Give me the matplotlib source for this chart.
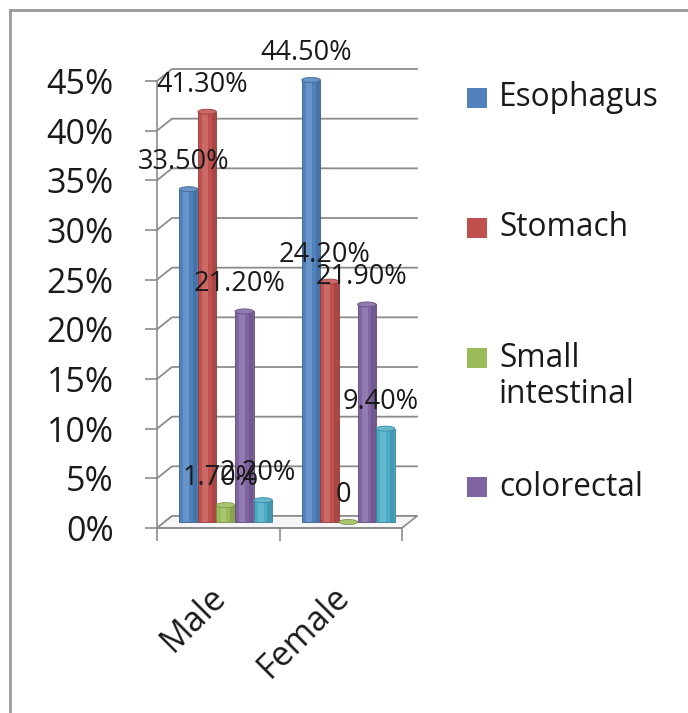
import matplotlib
matplotlib.use("Agg")
import matplotlib.pyplot as plt
import matplotlib.colors as mcolors
from matplotlib.patches import Ellipse, Polygon, Rectangle
from matplotlib.lines import Line2D
import numpy as np

plt.rcParams['font.family'] = ['Open Sans', 'DejaVu Sans']

# ---------------- data ----------------
categories = ["Male", "Female"]
esophagus = [33.5, 44.5]
stomach = [41.3, 24.2]
small_intestinal = [1.7, 0.0]
colorectal = [21.2, 21.9]
fifth_series = [2.2, 9.4]
series_values = [esophagus, stomach, small_intestinal, colorectal, fifth_series]
legend_names = ["Esophagus", "Stomach", "Small\nintestinal", "colorectal"]
series_colors = ["#4F81BD", "#C0504D", "#9BBB59", "#8064A2", "#4BACC6"]
yticks = list(range(0, 50, 5))

# ---------------- helpers ----------------
def lighten(c, a):
    r = np.array(mcolors.to_rgb(c))
    return tuple(r + (1 - r) * a)

def darken(c, a):
    r = np.array(mcolors.to_rgb(c))
    return tuple(r * (1 - a))

W, H = 688, 713
fig = plt.figure(figsize=(W / 100, H / 100), dpi=100)
fig.patch.set_facecolor("white")

def fx(px):
    return px / W

def fy(py):
    return 1 - py / H

# axes: front plane, x from -0.5..1.5 (157..402 px), y 0..45 (528..81 px)
ax = fig.add_axes([157 / W, (H - 528) / H, 245 / W, 447 / H])
ax.set_xlim(-0.5, 1.5)
ax.set_ylim(0, 45)
ax.set_facecolor("none")

PX_X = 245 / 2.0   # pixels per category unit
PX_Y = 447 / 45.0  # pixels per percent
DX = 15 / PX_X     # depth offset
DY = 12 / PX_Y

grid_col = "#8c8c8c"

# spines / ticks
for s in ["top", "right"]:
    ax.spines[s].set_visible(False)
ax.spines["left"].set_color(grid_col)
ax.spines["bottom"].set_color(grid_col)
ax.spines["left"].set_linewidth(1.2)
ax.spines["bottom"].set_linewidth(1.2)

ax.set_yticks(yticks)
ax.set_yticklabels([f"{v}%" for v in yticks])
ax.tick_params(axis="y", direction="out", length=9, width=1.2, color=grid_col,
               pad=22, labelsize=24.5, labelcolor="#1a1a1a")
ax.set_xticks([-0.5, 0.5, 1.5])
ax.set_xticklabels([])
ax.tick_params(axis="x", direction="out", length=9, width=1.2, color=grid_col)

# back wall gridlines with depth diagonals
for v in yticks:
    ax.plot([-0.5, -0.5 + DX, 1.5 + DX], [v, v + DY, v + DY],
            color=grid_col, lw=1.3, clip_on=False, zorder=1)

# floor
floor = Polygon([(-0.5, 0), (1.5, 0), (1.5 + DX, DY), (-0.5 + DX, DY)],
                closed=True, facecolor="#f6f6f6", edgecolor=grid_col, lw=1.2,
                clip_on=False, zorder=1.5)
ax.add_patch(floor)

# bars (cylinder look)
n = len(series_values)
w = 18.6 / PX_X
base = DY / 2
ell_h = 5 / PX_Y
xc = np.arange(len(categories)) + DX / 2
for k, (vals, c) in enumerate(zip(series_values, series_colors)):
    x = xc + (k - (n - 1) / 2) * w
    ax.bar(x, vals, width=w, bottom=base, color=c, edgecolor=darken(c, 0.25),
           linewidth=0.6, zorder=3, clip_on=False)
    ax.bar(x - w * 0.12, vals, width=w * 0.32, bottom=base,
           color=lighten(c, 0.3), alpha=0.5, linewidth=0, zorder=3.1, clip_on=False)
    ax.bar(x + w * 0.36, vals, width=w * 0.24, bottom=base,
           color=darken(c, 0.25), alpha=0.45, linewidth=0, zorder=3.1, clip_on=False)
    for xi, v in zip(x, vals):
        ax.add_patch(Ellipse((xi, v + base), w, ell_h, facecolor=lighten(c, 0.15),
                             edgecolor=darken(c, 0.2), lw=0.6, zorder=3.2, clip_on=False))
        lab = "0" if v == 0 else f"{v:.2f}%"
        ax.text(xi - 5 / PX_X, v + base + 27 / PX_Y, lab, ha="center", va="center",
                fontsize=19.5, color="#1a1a1a", zorder=5, clip_on=False)

# category labels
for i, cat in enumerate(categories):
    ax.text(i + 3 / PX_X, -64 / PX_Y, cat, rotation=45, ha="right", va="center",
            rotation_mode="anchor", fontsize=24.5, color="#1a1a1a", clip_on=False)

# legend (first four series, as in the reference)
leg_y = [98, 228, 358, 487]
for name, c, yy in zip(legend_names, series_colors, leg_y):
    fig.patches.append(Rectangle((fx(467), fy(yy + 10)), 20 / W, 20 / H,
                                 transform=fig.transFigure, facecolor=c,
                                 edgecolor="none"))
    for j, line in enumerate(name.split("\n")):
        fig.text(fx(499), fy(yy + j * 37), line, ha="left", va="center",
                 fontsize=22.8, color="#1a1a1a")

# outer frame
fig.add_artist(Line2D([fx(10), fx(10)], [fy(10), 0], transform=fig.transFigure,
                      color="#999999", lw=2))
fig.add_artist(Line2D([fx(10), 1], [fy(10), fy(10)], transform=fig.transFigure,
                      color="#999999", lw=2))

fig.savefig("out.png", dpi=100)
